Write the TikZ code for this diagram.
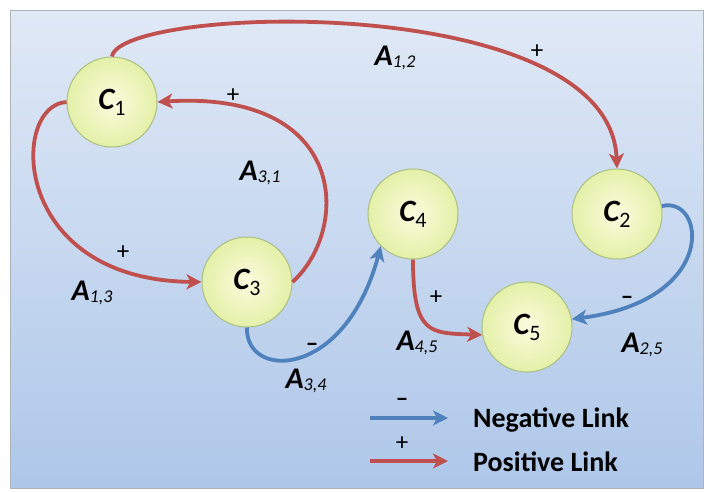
\documentclass[tikz,border=0pt]{standalone}
\usepackage{fontspec}
\setmainfont{Carlito}
\usepackage{tikz}
\usetikzlibrary{arrows.meta,positioning}
\definecolor{posred}{RGB}{192,80,77}
\definecolor{negblue}{RGB}{79,129,189}
\definecolor{bgtop}{RGB}{224,233,246}
\definecolor{bgbot}{RGB}{174,199,233}
\definecolor{nodein}{RGB}{250,252,222}
\definecolor{nodeout}{RGB}{228,240,168}
\definecolor{noderim}{RGB}{170,192,128}
\newcommand{\Cn}[1]{{\bfseries\itshape C}\raisebox{-6pt}{\fontsize{22}{22}\selectfont #1}}
\newcommand{\An}[1]{{\bfseries\itshape A}\raisebox{-2pt}{\itshape\fontsize{18}{18}\selectfont #1}}

\begin{document}
\begin{tikzpicture}[x=1pt,y=-1pt,>={Stealth[length=15pt,width=15pt,inset=4pt]},
  cnode/.style={circle,draw=noderim,line width=1pt,inner color=nodein,outer color=nodeout,minimum size=90pt,inner sep=0pt,font=\fontsize{31}{31}\selectfont},
  posarrow/.style={->,color=posred,line width=3.8pt},
  negarrow/.style={->,color=negblue,line width=3.8pt},
  alabel/.style={font=\fontsize{30}{30}\selectfont,inner sep=0pt},
  sign/.style={font=\fontsize{25}{25}\selectfont,inner sep=0pt},
  legtext/.style={font=\bfseries\fontsize{28}{28}\selectfont,anchor=west,inner sep=0pt}]
\useasboundingbox (0,0) rectangle (707,491);
\shade[top color=bgtop,bottom color=bgbot,draw=gray!60] (10,10) rectangle (703,488);
% concepts
\node[cnode] (c1) at (112,102) {\Cn{1}};
\node[cnode] (c2) at (617,214) {\Cn{2}};
\node[cnode] (c3) at (247,282) {\Cn{3}};
\node[cnode] (c4) at (413,214) {\Cn{4}};
\node[cnode] (c5) at (527,327) {\Cn{5}};
% links
\draw[posarrow] (c1.north) .. controls (120,5) and (610,-10) .. (c2.north);
\draw[posarrow] (c3.east) .. controls (350,230) and (350,90) .. (c1.east);
\draw[posarrow] (c1.west) .. controls (10,105) and (10,280) .. (c3.west);
\draw[negarrow] (c3.south) .. controls (245,380) and (345,380) .. (c4.south west);
\draw[posarrow] (c4.south) .. controls (413,335) and (430,333) .. (c5.190);
\draw[negarrow] (c2.10) .. controls (705,195) and (720,300) .. (c5.10);
% weights and signs
\node[alabel] (a12) at (395,58) {\An{1,2}};
\node[sign] (s12) at (537,52) {+};
\node[alabel] (a31) at (260,173) {\An{3,1}};
\node[sign] (s31) at (233,96) {+};
\node[alabel] (a13) at (92,293) {\An{1,3}};
\node[sign] (s13) at (123,253) {+};
\node[alabel] (a34) at (306,381) {\An{3,4}};
\node[sign] (s34) at (312,347) {\bfseries\textendash};
\node[alabel] (a45) at (417,343) {\An{4,5}};
\node[sign] (s45) at (436,298) {+};
\node[alabel] (a25) at (642,345) {\An{2,5}};
\node[sign] (s25) at (627,300) {\bfseries\textendash};
% legend
\coordinate (negA) at (370,418);
\coordinate (negB) at (448,418);
\coordinate (posA) at (370,461);
\coordinate (posB) at (448,461);
\draw[negarrow] (negA) -- (negB);
\draw[posarrow] (posA) -- (posB);
\node[sign] (sneg) at (402,402) {\bfseries\textendash};
\node[sign] (spos) at (402,444) {+};
\node[legtext] (lneg) at (473,420) {Negative Link};
\node[legtext] (lpos) at (473,462) {Positive Link};
\end{tikzpicture}
\end{document}
